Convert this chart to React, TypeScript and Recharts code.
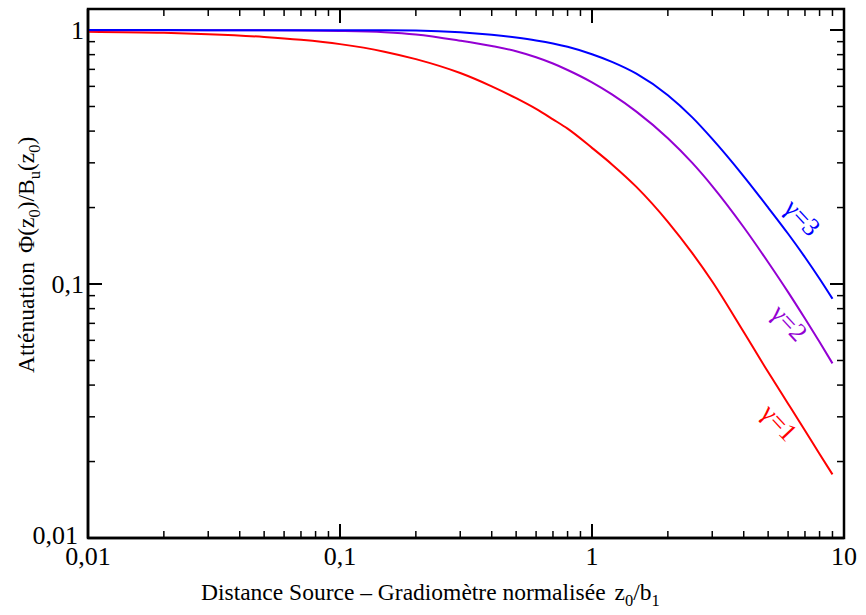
import React from "react"
import { LineChart, Line, XAxis, YAxis, ReferenceDot, ReferenceLine, ReferenceArea } from "recharts"

// normalised distance z0/b1
const distances = [0.01, 0.02, 0.03, 0.05, 0.07, 0.1, 0.15, 0.2, 0.3, 0.4, 0.5, 0.6, 0.7, 0.8, 1, 1.2, 1.5, 2, 2.5, 3, 4, 5, 6, 7, 8, 9]

// attenuation
const gamma1 = [0.985, 0.975, 0.963, 0.939, 0.915, 0.88, 0.822, 0.768, 0.677, 0.6, 0.539, 0.489, 0.445, 0.409, 0.3436, 0.2958, 0.2413, 0.1758, 0.1323, 0.1023, 0.0647, 0.045, 0.0338, 0.0265, 0.0214, 0.0178]
const gamma2 = [0.999, 0.999, 0.998, 0.997, 0.995, 0.992, 0.981, 0.961, 0.908, 0.865, 0.825, 0.781, 0.738, 0.696, 0.6223, 0.5578, 0.4771, 0.3748, 0.2997, 0.243, 0.1673, 0.1218, 0.0929, 0.0731, 0.0591, 0.0487]
const gamma3 = [0.9995, 0.9995, 0.999, 0.999, 0.999, 0.999, 0.998, 0.9954, 0.9795, 0.9572, 0.9339, 0.9103, 0.8856, 0.859, 0.803, 0.7494, 0.6733, 0.5538, 0.4529, 0.3727, 0.2655, 0.2, 0.1577, 0.1275, 0.1049, 0.0875]

const xLabels = [0.01, 0.1, 1, 10]
const yLabels = [0.01, 0.1, 1]
// inner tick marks (the frame itself covers the end values)
const xMajorMarks = [0.1, 1]
const xMinorMarks = [0.02, 0.03, 0.04, 0.05, 0.06, 0.07, 0.08, 0.09, 0.2, 0.3, 0.4, 0.5, 0.6, 0.7, 0.8, 0.9, 2, 3, 4, 5, 6, 7, 8, 9]
const yMajorMarks = [0.1, 1]
const yMinorMarks = [0.02, 0.03, 0.04, 0.05, 0.06, 0.07, 0.08, 0.09, 0.2, 0.3, 0.4, 0.5, 0.6, 0.7, 0.8, 0.9]

const curveLabels = [
  { text: "3", x: 6.85, y: 0.183, color: "#0000ff" },
  { text: "2", x: 6.08, y: 0.0705, color: "#9400d3" },
  { text: "1", x: 5.55, y: 0.0285, color: "#ff0000" },
]

const data = distances.map((x, i) => ({ x, g1: gamma1[i], g2: gamma2[i], g3: gamma3[i] }))

const FONT = "'Liberation Serif', 'Times New Roman', serif"
const MAJOR = 14
const MINOR = 7

const fmt = (v: number) => String(v).replace(".", ",")

function BottomLabel({ x, y, payload }: any) {
  return (
    <text x={x} y={y + 27} textAnchor="middle" fontFamily={FONT} fontSize={26} fill="#000">
      {fmt(payload.value)}
    </text>
  )
}

function LeftLabel({ x, y, payload }: any) {
  const low = payload.value === 0.01
  return (
    <text x={x - (low ? 10 : 4)} y={y - (low ? 3 : 0)} dy="0.35em" textAnchor="end" fontFamily={FONT} fontSize={26} fill="#000">
      {fmt(payload.value)}
    </text>
  )
}

// vertical reference line -> two short marks at the bottom and top of the frame
function xMark(len: number, width: number) {
  return ({ x1, y1, y2 }: any) => {
    const top = Math.min(y1, y2)
    const bottom = Math.max(y1, y2)
    return (
      <g stroke="#000" strokeWidth={width}>
        <line x1={x1} x2={x1} y1={bottom} y2={bottom - len} />
        <line x1={x1} x2={x1} y1={top} y2={top + len} />
      </g>
    )
  }
}

// horizontal reference line -> two short marks at the left and right of the frame
function yMark(len: number, width: number) {
  return ({ x1, x2, y1 }: any) => {
    const left = Math.min(x1, x2)
    const right = Math.max(x1, x2)
    return (
      <g stroke="#000" strokeWidth={width}>
        <line x1={left} x2={left + len} y1={y1} y2={y1} />
        <line x1={right} x2={right - len} y1={y1} y2={y1} />
      </g>
    )
  }
}

function XTitle() {
  return (
    <text x={201} y={600} fontFamily={FONT} fontSize={23.5} fill="#000">
      Distance Source – Gradiomètre normalisée
      <tspan dx={9}>z</tspan>
      <tspan dy={6} fontSize={16.5}>0</tspan>
      <tspan dy={-6}>/b</tspan>
      <tspan dy={6} fontSize={16.5}>1</tspan>
    </text>
  )
}

function YTitle() {
  const cx = 34
  const cy = 373
  return (
    <text x={cx} y={cy} transform={`rotate(-90, ${cx}, ${cy})`} fontFamily={FONT} fontSize={23.5} fill="#000">
      Atténuation
      <tspan dx={9}>Φ(z</tspan>
      <tspan dy={6} fontSize={16.5}>0</tspan>
      <tspan dy={-6}>)/B</tspan>
      <tspan dy={6} fontSize={16.5}>u</tspan>
      <tspan dy={-6}>(z</tspan>
      <tspan dy={6} fontSize={16.5}>0</tspan>
      <tspan dy={-6}>)</tspan>
    </text>
  )
}

function curveLabel(text: string, color: string) {
  return ({ viewBox }: any) => {
    const cx = viewBox.x + viewBox.width / 2
    const cy = viewBox.y + viewBox.height / 2
    return (
      <text x={cx} y={cy} dy="0.35em" transform={`rotate(47, ${cx}, ${cy})`} textAnchor="middle" fontFamily={FONT} fontSize={26} fill={color}>
        γ={text}
      </text>
    )
  }
}

export default function App() {
  return (
    <div style={{ position: "absolute", left: 0, top: 0, background: "#fff" }}>
      <LineChart width={866} height={615} data={data} margin={{ top: 9, right: 22, bottom: 0, left: 0 }}>
        <XAxis
          xAxisId="b"
          dataKey="x"
          type="number"
          scale="log"
          domain={[0.01, 10]}
          allowDataOverflow
          ticks={xLabels}
          interval={0}
          height={77}
          tickSize={0}
          tickMargin={0}
          tickLine={false}
          tick={<BottomLabel />}
          axisLine={{ stroke: "#000", strokeWidth: 2.5 }}
          label={{ content: <XTitle /> }}
        />
        <YAxis
          yAxisId="l"
          type="number"
          scale="log"
          domain={[0.01, 1.21]}
          allowDataOverflow
          ticks={yLabels}
          interval={0}
          width={88}
          tickSize={0}
          tickMargin={0}
          tickLine={false}
          tick={<LeftLabel />}
          axisLine={{ stroke: "#000", strokeWidth: 2.5 }}
          label={{ content: <YTitle /> }}
        />

        <ReferenceArea xAxisId="b" yAxisId="l" x1={0.01} x2={10} y1={0.01} y2={1.21} fill="none" stroke="#000" strokeWidth={2.5} fillOpacity={0} />
        {xMajorMarks.map((v) => (
          <ReferenceLine key={`xM${v}`} xAxisId="b" yAxisId="l" x={v} shape={xMark(MAJOR, 2)} />
        ))}
        {xMinorMarks.map((v) => (
          <ReferenceLine key={`xm${v}`} xAxisId="b" yAxisId="l" x={v} shape={xMark(MINOR, 1.5)} />
        ))}
        {yMajorMarks.map((v) => (
          <ReferenceLine key={`yM${v}`} xAxisId="b" yAxisId="l" y={v} shape={yMark(MAJOR, 2)} />
        ))}
        {yMinorMarks.map((v) => (
          <ReferenceLine key={`ym${v}`} xAxisId="b" yAxisId="l" y={v} shape={yMark(MINOR, 1.5)} />
        ))}

        <Line xAxisId="b" yAxisId="l" type="monotone" dataKey="g1" stroke="#ff0000" strokeWidth={2} dot={false} isAnimationActive={false} />
        <Line xAxisId="b" yAxisId="l" type="monotone" dataKey="g2" stroke="#9400d3" strokeWidth={2} dot={false} isAnimationActive={false} />
        <Line xAxisId="b" yAxisId="l" type="monotone" dataKey="g3" stroke="#0000ff" strokeWidth={2} dot={false} isAnimationActive={false} />
        {curveLabels.map((c) => (
          <ReferenceDot
            key={c.text}
            xAxisId="b"
            yAxisId="l"
            x={c.x}
            y={c.y}
            r={1}
            fill="none"
            stroke="none"
            label={{ content: curveLabel(c.text, c.color) }}
          />
        ))}
      </LineChart>
    </div>
  )
}
